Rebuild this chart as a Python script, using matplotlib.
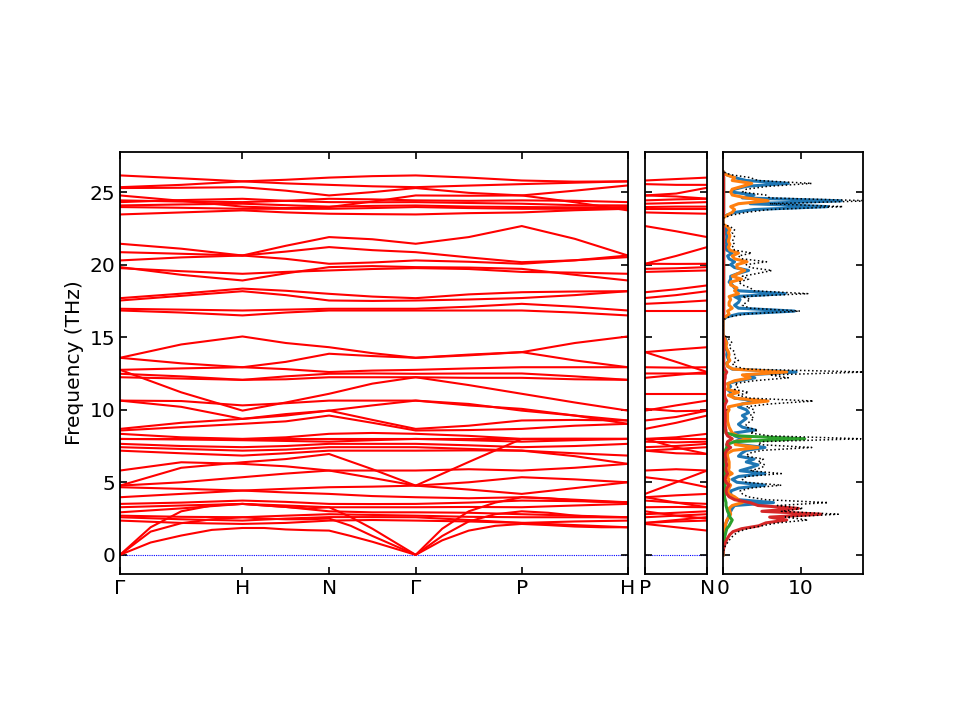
import numpy as np
import matplotlib
matplotlib.use('Agg')
import matplotlib.pyplot as plt

### phonon band structure (G-H-N-G-P-H | P-N) + projected DOS ###

labels_main = ['Γ', 'H', 'N', 'Γ', 'P', 'H']
labels_pn = ['P', 'N']
seg_len = [1.0, np.sqrt(0.5), np.sqrt(0.5), np.sqrt(0.75), np.sqrt(0.75)]
pn_len = 0.5

# optical bands, read at G, mid, H, mid, N, mid, G, mid, P, mid, H
bands = [
    [26.15, 25.95, 25.74, 25.85, 26.0, 26.1, 26.15, 26.0, 25.8, 25.72, 25.74],
    [25.34, 25.5, 25.74, 25.6, 25.5, 25.4, 25.34, 25.45, 25.55, 25.65, 25.74],
    [25.28, 25.3, 25.34, 25.1, 24.77, 25.0, 25.28, 24.95, 24.77, 24.3, 23.74],
    [24.77, 24.4, 24.0, 23.9, 23.97, 24.35, 24.77, 24.75, 24.77, 25.1, 25.46],
    [24.43, 24.35, 24.31, 24.4, 24.54, 24.5, 24.43, 24.4, 24.43, 24.4, 24.31],
    [24.31, 24.45, 24.54, 24.4, 24.31, 24.3, 24.31, 24.25, 24.2, 24.1, 24.08],
    [24.08, 24.15, 24.2, 24.1, 24.0, 24.05, 24.08, 24.0, 23.97, 23.95, 23.97],
    [23.97, 23.92, 23.85, 23.85, 23.85, 23.9, 23.97, 23.9, 23.85, 23.85, 23.85],
    [23.46, 23.6, 23.74, 23.6, 23.51, 23.48, 23.46, 23.55, 23.6, 23.75, 23.85],
    [21.44, 21.1, 20.63, 21.3, 21.9, 21.75, 21.44, 21.9, 22.66, 21.78, 20.63],
    [20.86, 20.75, 20.63, 20.9, 21.21, 21.0, 20.86, 20.5, 20.17, 20.3, 20.52],
    [20.29, 20.5, 20.63, 20.4, 20.06, 20.15, 20.29, 20.2, 20.06, 20.3, 20.63],
    [19.83, 19.3, 18.91, 19.4, 19.83, 19.9, 19.83, 19.8, 19.71, 19.3, 18.91],
    [19.76, 19.55, 19.37, 19.5, 19.6, 19.7, 19.76, 19.7, 19.5, 19.45, 19.37],
    [17.69, 18.0, 18.35, 18.2, 17.99, 17.8, 17.69, 17.95, 18.1, 18.15, 18.17],
    [17.53, 17.85, 18.17, 17.9, 17.53, 17.5, 17.53, 17.6, 17.7, 17.9, 18.17],
    [16.96, 16.9, 16.84, 16.9, 16.96, 16.96, 16.96, 17.1, 17.3, 17.1, 16.84],
    [16.84, 16.7, 16.5, 16.7, 16.84, 16.84, 16.84, 16.84, 16.84, 16.7, 16.5],
    [13.58, 14.5, 15.05, 14.6, 14.31, 13.9, 13.58, 13.8, 13.97, 14.6, 15.05],
    [13.58, 13.2, 12.93, 13.3, 13.86, 13.7, 13.58, 13.75, 13.97, 13.4, 12.93],
    [12.75, 12.85, 12.93, 12.8, 12.6, 12.7, 12.75, 12.85, 12.93, 12.93, 12.93],
    [12.48, 12.3, 12.06, 12.3, 12.48, 12.5, 12.48, 12.5, 12.5, 12.3, 12.06],
    [12.24, 12.15, 12.06, 12.1, 12.24, 12.24, 12.24, 12.2, 12.2, 12.1, 12.06],
    [12.75, 11.2, 9.94, 10.5, 11.1, 11.8, 12.24, 11.7, 11.1, 10.5, 9.94],
    [10.63, 10.6, 10.3, 10.45, 10.63, 10.63, 10.63, 10.4, 9.94, 9.6, 9.26],
    [10.63, 10.2, 9.37, 9.7, 9.94, 10.3, 10.63, 10.3, 10.06, 9.6, 9.03],
    [8.68, 9.1, 9.37, 9.6, 9.94, 9.3, 8.68, 8.9, 9.26, 9.3, 9.26],
    [8.57, 8.8, 9.03, 9.2, 9.6, 9.1, 8.57, 8.6, 8.68, 8.9, 9.03],
    [8.34, 8.1, 7.99, 8.1, 8.34, 8.4, 8.34, 8.2, 7.99, 8.0, 7.99],
    [7.99, 7.99, 7.99, 7.99, 7.99, 7.99, 7.99, 7.99, 7.99, 7.99, 7.99],
    [7.99, 7.95, 7.9, 7.85, 7.8, 7.9, 7.99, 7.9, 7.8, 7.9, 7.99],
    [7.65, 7.5, 7.42, 7.5, 7.65, 7.65, 7.65, 7.55, 7.42, 7.5, 7.65],
    [7.42, 7.3, 7.18, 7.25, 7.42, 7.42, 7.42, 7.3, 7.18, 7.0, 6.84],
    [7.18, 7.0, 6.84, 7.0, 7.18, 7.18, 7.18, 7.2, 7.18, 6.8, 6.27],
    [5.81, 6.38, 6.27, 6.1, 5.81, 5.81, 5.81, 5.9, 5.81, 6.0, 6.27],
    [4.77, 6.0, 6.38, 6.6, 6.95, 5.9, 4.77, 6.4, 7.99, 7.99, 7.99],
    [4.77, 5.0, 5.35, 5.6, 5.81, 5.3, 4.77, 4.5, 4.2, 4.6, 5.0],
    [4.66, 4.55, 4.43, 4.55, 4.66, 4.7, 4.77, 5.0, 5.35, 5.2, 5.0],
    [3.97, 4.2, 4.43, 4.3, 4.2, 4.05, 3.97, 3.9, 3.97, 3.8, 3.62],
    [3.51, 3.6, 3.74, 3.65, 3.51, 3.5, 3.51, 3.6, 3.74, 3.7, 3.62],
    [3.28, 3.4, 3.51, 3.4, 3.28, 3.28, 3.28, 3.3, 3.28, 3.4, 3.51],
    [2.93, 3.2, 3.51, 3.3, 3.0, 2.93, 2.93, 2.9, 2.8, 2.7, 2.59],
    [2.7, 2.62, 2.59, 2.7, 2.8, 2.75, 2.7, 2.62, 2.59, 2.59, 2.59],
    [2.59, 2.45, 2.36, 2.5, 2.6, 2.6, 2.59, 2.4, 2.2, 2.3, 2.36],
    [2.36, 2.2, 2.13, 2.2, 2.36, 2.4, 2.36, 2.3, 2.2, 2.05, 1.9],
]

# same bands on P-N: P, mid, N
bands_pn = [
    [25.8, 25.9, 26.0], [25.55, 25.5, 25.5], [24.77, 24.9, 25.3], [24.77, 24.7, 24.55],
    [24.43, 24.5, 24.54], [24.2, 24.25, 24.31], [23.97, 24.0, 24.0], [23.85, 23.85, 23.85],
    [23.6, 23.55, 23.51], [22.66, 22.3, 21.9], [20.06, 20.6, 21.21], [20.06, 20.05, 20.06],
    [19.71, 19.75, 19.83], [19.5, 19.55, 19.6], [18.1, 18.3, 18.57], [17.7, 17.9, 18.17],
    [17.3, 17.4, 17.53], [16.84, 16.84, 16.84], [13.97, 14.15, 14.31], [13.97, 13.3, 12.6],
    [12.93, 12.9, 12.93], [12.5, 12.5, 12.48], [12.2, 12.4, 12.6], [11.1, 11.1, 11.1],
    [9.94, 10.3, 10.63], [10.06, 9.9, 9.94], [9.26, 9.5, 9.94], [8.68, 9.1, 9.6],
    [7.99, 8.1, 8.34], [7.99, 7.99, 7.99], [7.8, 7.75, 7.8], [7.42, 7.5, 7.65],
    [7.18, 7.3, 7.42], [7.18, 7.0, 6.95], [5.81, 5.9, 5.81], [7.99, 7.4, 6.95],
    [4.2, 5.0, 5.81], [5.35, 5.1, 4.66], [3.97, 4.1, 4.2], [3.74, 3.6, 3.51],
    [3.28, 3.3, 3.28], [2.8, 2.9, 3.0], [2.59, 2.7, 2.8], [2.2, 2.4, 2.6],
    [2.2, 2.3, 2.36],
]

# acoustic branches, read at quarter points of every segment
acoustic = [
    [0, 0.85, 1.33, 1.72, 1.85, 1.85, 1.75, 1.7, 1.67, 1.3, 0.9, 0.45, 0,
     1.0, 1.67, 2.0, 2.13, 2.05, 1.95, 1.9, 1.9],
    [0, 1.6, 2.18, 2.45, 2.59, 2.5, 2.45, 2.45, 2.5, 2.0, 1.3, 0.65, 0,
     1.3, 2.3, 2.8, 3.0, 2.9, 2.7, 2.6, 2.59],
    [0, 1.9, 3.0, 3.4, 3.51, 3.4, 3.3, 3.2, 3.28, 2.6, 1.8, 0.9, 0,
     1.8, 3.0, 3.6, 3.97, 3.9, 3.75, 3.65, 3.62],
]
acoustic_pn = [[2.13, 1.9, 1.67], [3.0, 2.7, 2.5], [3.97, 3.6, 3.28]]

# DOS on a 0.2 THz grid, 0 .. 26.4 THz (one row = 2 THz)
dos_total = [
    0, 0.05, 0.15, 0.3, 0.55, 0.8, 1.1, 1.5, 2.0, 3.2,
    5.0, 7.0, 10.9, 8.0, 14.8, 7.5, 10.3, 7.0, 13.5, 5.5,
    3.2, 2.5, 2.2, 3.5, 7.5, 3.0, 2.5, 3.0, 7.5, 3.5,
    5.0, 5.4, 4.5, 5.2, 3.0, 3.3, 5.0, 11.4, 4.5, 5.0,
    17.7, 6.0, 3.5, 4.5, 3.0, 3.0, 3.5, 4.0, 3.5, 4.0,
    4.0, 3.0, 6.0, 11.6, 3.5, 2.0, 3.3, 1.5, 2.0, 1.5,
    4.0, 8.4, 6.0, 18.5, 3.0, 1.5, 1.2, 2.0, 1.5, 1.5,
    1.5, 1.0, 0.8, 1.2, 0.9, 0.5, 0, 0, 0, 0,
    0, 0, 0.8, 3.0, 9.9, 3.5, 2.5, 3.0, 3.5, 2.5,
    10.9, 4.0, 3.5, 2.5, 2.0, 3.3, 2.5, 4.5, 6.3, 3.5,
    3.0, 5.6, 2.5, 2.0, 3.7, 1.5, 1.2, 1.5, 1.2, 1.4,
    1.5, 1.2, 1.5, 1.0, 0, 0, 0, 1.0, 3.0, 6.0,
    15.4, 6.0, 19.0, 6.0, 5.5, 2.5, 3.0, 5.8, 11.4, 4.5,
    3.5, 1.0, 0,
]
dos_c0 = [
    0, 0.01, 0.03, 0.05, 0.1, 0.15, 0.2, 0.25, 0.3, 0.35,
    0.3, 0.4, 0.6, 0.7, 0.8, 1.0, 1.2, 1.5, 6.5, 2.0,
    1.2, 1.0, 1.0, 2.0, 5.4, 1.8, 1.2, 2.0, 5.4, 2.2,
    3.5, 4.5, 3.0, 4.0, 2.0, 2.4, 3.0, 5.4, 2.0, 1.5,
    2.5, 1.5, 1.5, 4.1, 2.5, 2.0, 2.5, 3.0, 2.5, 3.3,
    3.0, 2.0, 2.5, 4.5, 1.5, 1.0, 1.0, 0.6, 1.0, 0.6,
    2.0, 4.1, 3.0, 9.4, 1.2, 0.6, 0.5, 0.8, 0.6, 0.5,
    0.6, 0.4, 0.3, 0.5, 0.4, 0.2, 0, 0, 0, 0,
    0, 0, 0.5, 2.0, 9.2, 2.0, 1.5, 2.0, 2.2, 1.5,
    8.0, 2.0, 1.5, 1.2, 0.8, 1.0, 1.0, 2.0, 3.3, 1.5,
    1.0, 1.5, 0.8, 0.6, 1.2, 0.5, 0.4, 0.5, 0.4, 0.5,
    0.5, 0.4, 0.5, 0.3, 0, 0, 0, 0.4, 1.5, 4.0,
    13.5, 3.5, 15.2, 2.5, 4.0, 1.2, 1.5, 3.0, 8.4, 3.0,
    1.5, 0.5, 0,
]
dos_c1 = [
    0, 0.01, 0.02, 0.04, 0.07, 0.1, 0.15, 0.2, 0.25, 0.3,
    0.3, 0.4, 0.5, 0.8, 1.0, 0.9, 0.8, 1.2, 2.5, 2.0,
    1.5, 0.8, 0.6, 0.8, 1.0, 0.6, 0.8, 0.5, 1.2, 0.7,
    0.8, 0.8, 0.8, 0.7, 0.6, 0.6, 1.3, 4.5, 1.6, 1.5,
    3.5, 2.0, 1.2, 1.0, 0.8, 0.7, 0.6, 0.6, 0.6, 0.6,
    0.8, 0.7, 2.5, 5.8, 1.5, 0.7, 2.0, 0.6, 0.7, 0.6,
    1.5, 3.5, 2.5, 8.2, 1.3, 0.6, 0.5, 0.9, 0.7, 0.8,
    0.7, 0.5, 0.4, 0.5, 0.3, 0.2, 0, 0, 0, 0,
    0, 0, 0.3, 0.8, 0.6, 1.2, 0.8, 0.8, 1.0, 0.8,
    2.0, 1.5, 1.8, 1.0, 1.0, 2.4, 1.2, 2.0, 2.8, 1.8,
    1.8, 3.1, 1.5, 1.2, 2.0, 0.9, 0.7, 0.9, 0.7, 0.8,
    0.9, 0.7, 0.9, 0.6, 0, 0, 0, 0.5, 1.2, 1.5,
    1.0, 2.0, 5.8, 3.0, 1.2, 1.0, 1.2, 2.5, 3.7, 1.2,
    1.5, 0.4, 0,
]
dos_c2 = [
    0, 0.01, 0.03, 0.05, 0.1, 0.15, 0.2, 0.3, 0.4, 0.5,
    0.8, 1.0, 1.2, 0.9, 0.8, 0.6, 0.5, 0.4, 0.4, 0.3,
    0.2, 0.2, 0.2, 0.2, 0.3, 0.2, 0.2, 0.2, 0.3, 0.2,
    0.2, 0.2, 0.2, 0.2, 0.2, 0.2, 0.3, 0.5, 0.5, 1.5,
    10.5, 1.8, 0.4, 0.3, 0.3, 0.2, 0.2, 0.2, 0.2, 0.2,
    0.2, 0.2, 0.2, 0.3, 0.2, 0.1, 0.2, 0.1, 0.1, 0.1,
    0.1, 0.2, 0.2, 0.3, 0.1, 0.1, 0.1, 0.1, 0.1, 0.1,
    0.1, 0.1, 0.1, 0.1, 0.05, 0.05, 0, 0, 0, 0,
    0, 0, 0.05, 0.1, 0.1, 0.1, 0.1, 0.1, 0.1, 0.1,
    0.1, 0.1, 0.1, 0.1, 0.1, 0.1, 0.1, 0.1, 0.1, 0.1,
    0.1, 0.1, 0.1, 0.1, 0.1, 0.1, 0.1, 0.1, 0.1, 0.1,
    0.1, 0.1, 0.1, 0.05, 0, 0, 0, 0.05, 0.1, 0.1,
    0.1, 0.1, 0.1, 0.1, 0.1, 0.1, 0.1, 0.1, 0.1, 0.1,
    0.1, 0.05, 0,
]
dos_c3 = [
    0, 0.03, 0.08, 0.18, 0.3, 0.45, 0.65, 0.9, 1.3, 2.4,
    4.6, 5.5, 8.2, 6.0, 12.6, 5.0, 9.7, 4.5, 3.5, 1.5,
    0.8, 0.5, 0.4, 0.5, 0.8, 0.4, 0.3, 0.4, 0.6, 0.4,
    0.4, 0.5, 0.4, 0.4, 0.3, 0.3, 0.5, 1.0, 0.5, 0.6,
    1.2, 0.6, 0.4, 0.4, 0.3, 0.3, 0.3, 0.3, 0.3, 0.3,
    0.3, 0.2, 0.3, 0.5, 0.3, 0.2, 0.2, 0.2, 0.2, 0.2,
    0.2, 0.3, 0.3, 0.5, 0.2, 0.1, 0.1, 0.1, 0.1, 0.1,
    0.1, 0.1, 0.1, 0.1, 0.1, 0.05, 0, 0, 0, 0,
    0, 0, 0.05, 0.1, 0.1, 0.1, 0.1, 0.1, 0.1, 0.1,
    0.1, 0.1, 0.1, 0.1, 0.1, 0.1, 0.1, 0.1, 0.1, 0.1,
    0.1, 0.1, 0.1, 0.1, 0.1, 0.1, 0.1, 0.1, 0.1, 0.1,
    0.1, 0.1, 0.1, 0.05, 0, 0, 0, 0.05, 0.1, 0.1,
    0.1, 0.1, 0.1, 0.1, 0.1, 0.1, 0.1, 0.1, 0.1, 0.1,
    0.1, 0.05, 0,
]
dos_freq = np.arange(len(dos_total)) * 0.2


nodes = np.concatenate([[0.0], np.cumsum(seg_len)])


def path_points(n) :
    pts = [nodes[0]]
    for a, b in zip(nodes[:-1], nodes[1:]) :
        pts += list(np.linspace(a, b, n + 1)[1:])
    return np.array(pts)


q_mid = path_points(2)
q_quarter = path_points(4)
q_pn = np.linspace(0, pn_len, 3)

ylim = (-1.32, 27.76)
fs = 14.5

fig = plt.figure(figsize=(9.6, 7.2), dpi=100)
ax1 = fig.add_axes([0.125, 0.2028, 0.529, 0.586])
ax2 = fig.add_axes([0.672, 0.2028, 0.0646, 0.586])
ax3 = fig.add_axes([0.753, 0.2028, 0.1458, 0.586])

for b in bands :
    ax1.plot(q_mid, b, 'r-', lw=1.5)
for b in acoustic :
    ax1.plot(q_quarter, b, 'r-', lw=1.5)
for b in bands_pn + acoustic_pn :
    ax2.plot(q_pn, b, 'r-', lw=1.5)

for ax in (ax1, ax2) :
    ax.axhline(0, color='b', ls=(0, (1, 1)), lw=0.8, zorder=0)

ax1.set_xlim(nodes[0], nodes[-1])
ax1.set_xticks(nodes)
ax1.set_xticklabels(labels_main)
ax2.set_xlim(0, pn_len)
ax2.set_xticks([0, pn_len])
ax2.set_xticklabels(labels_pn)
ax1.set_ylabel('Frequency (THz)', fontsize=fs)

ax3.plot(dos_c0, dos_freq, color='C0', lw=2.2)
ax3.plot(dos_c1, dos_freq, color='C1', lw=2.2)
ax3.plot(dos_c2, dos_freq, color='C2', lw=2.2)
ax3.plot(dos_c3, dos_freq, color='C3', lw=2.2)
ax3.plot(dos_total, dos_freq, 'k:', lw=1.1)
ax3.set_xlim(0, 17.96)
ax3.set_xticks([0, 10])

for ax in (ax1, ax2, ax3) :
    ax.set_ylim(*ylim)
    ax.set_yticks([0, 5, 10, 15, 20, 25])
    ax.tick_params(direction='in', top=True, right=True, labelsize=fs,
                   length=5, width=1.2)
    for s in ax.spines.values() :
        s.set_linewidth(1.3)
ax2.set_yticklabels([])
ax3.set_yticklabels([])

fig.savefig('out.png', dpi=100)
